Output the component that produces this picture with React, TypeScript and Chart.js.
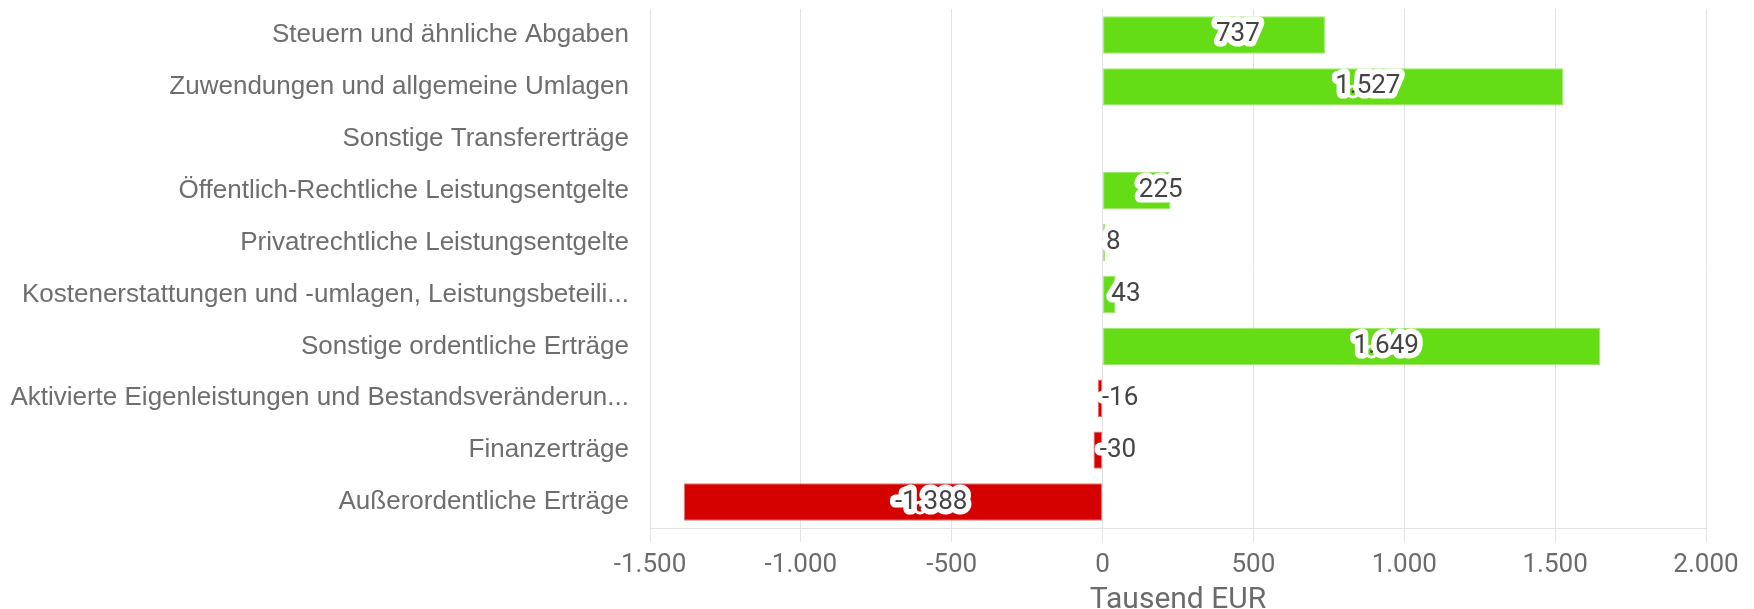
import React, { useEffect, useRef } from "react";
import { Chart, registerables } from "chart.js";

Chart.register(...registerables);

const CATEGORIES = [
  "Steuern und ähnliche Abgaben",
  "Zuwendungen und allgemeine Umlagen",
  "Sonstige Transfererträge",
  "Öffentlich-Rechtliche Leistungsentgelte",
  "Privatrechtliche Leistungsentgelte",
  "Kostenerstattungen und -umlagen, Leistungsbeteili...",
  "Sonstige ordentliche Erträge",
  "Aktivierte Eigenleistungen und Bestandsveränderun...",
  "Finanzerträge",
  "Außerordentliche Erträge",
];

const VALUES: (number | null)[] = [737, 1527, null, 225, 8, 43, 1649, -16, -30, -1388];

const X_MIN = -1500;
const X_MAX = 2000;
const X_STEP = 500;
const AXIS_TITLE = "Tausend EUR";

const FONT = "Roboto";
const LABEL_FONT = "'Liberation Sans', Arial, sans-serif";

function fmt(n: number): string {
  const neg = n < 0;
  const s = Math.round(Math.abs(n)).toString();
  const parts: string[] = [];
  for (let i = s.length; i > 0; i -= 3) parts.unshift(s.slice(Math.max(0, i - 3), i));
  return (neg ? "-" : "") + parts.join(".");
}

const valueLabelPlugin = {
  id: "valueLabels",
  afterDatasetsDraw(chart: any) {
    const ctx = chart.ctx;
    const meta = chart.getDatasetMeta(0);
    meta.data.forEach((bar: any, i: number) => {
      const v = VALUES[i];
      if (v == null) return;
      const { x, y, base } = bar.getProps(["x", "y", "base"], true);
      const cx = (x + base) / 2;
      const text = fmt(v);
      ctx.save();
      ctx.font = `26px ${FONT}`;
      ctx.textAlign = "left";
      ctx.textBaseline = "middle";
      ctx.lineJoin = "round";
      ctx.lineWidth = 11;
      ctx.strokeStyle = "#ffffff";
      ctx.strokeText(text, cx + 2, y);
      ctx.fillStyle = "#444444";
      ctx.fillText(text, cx + 2, y);
      ctx.restore();
    });
  },
};

export default function App() {
  const ref = useRef<HTMLCanvasElement | null>(null);

  useEffect(() => {
    document.body.style.margin = "0";
    const canvas = ref.current;
    if (!canvas) return;
    const chart = new Chart(canvas, {
      type: "bar",
      data: {
        labels: CATEGORIES,
        datasets: [
          {
            data: VALUES as any,
            backgroundColor: VALUES.map((v) => ((v ?? 0) < 0 ? "#d50000" : "#64dd17")),
            borderColor: VALUES.map((v) => ((v ?? 0) < 0 ? "#e57373" : "#9be86a")),
            borderWidth: 1,
            borderSkipped: false,
          },
        ],
      },
      options: {
        indexAxis: "y",
        animation: false,
        responsive: true,
        maintainAspectRatio: false,
        layout: { padding: { top: 9, right: 48, left: 0, bottom: 0 } },
        plugins: {
          legend: { display: false },
          tooltip: { enabled: false },
        },
        scales: {
          x: {
            type: "linear",
            min: X_MIN,
            max: X_MAX,
            ticks: {
              stepSize: X_STEP,
              color: "#6b6b6b",
              font: { family: FONT, size: 26 },
              padding: 8,
              callback: (v: any) => fmt(Number(v)),
            },
            grid: { color: "#e3e3e3", tickLength: 14, lineWidth: 1 },
            border: { display: true, color: "#e3e3e3" },
            title: {
              display: true,
              text: AXIS_TITLE,
              color: "#6b6b6b",
              font: { family: FONT, size: 30, lineHeight: 0.6 },
              padding: { top: 2, bottom: 0 },
            },
            afterFit: (scale: any) => {
              scale.height = 81;
            },
          },
          y: {
            type: "category",
            ticks: {
              color: "#6e6e6e",
              font: { family: LABEL_FONT, size: 26 },
              padding: 21,
            },
            grid: { display: false, drawTicks: false },
            border: { display: true, color: "#e3e3e3" },
            afterFit: (scale: any) => {
              scale.width = 650;
              scale.paddingTop = 0;
              scale.paddingBottom = 0;
            },
          },
        },
      },
      plugins: [valueLabelPlugin],
    } as any);
    return () => chart.destroy();
  }, []);

  return (
    <div style={{ width: "1754px", height: "609px", position: "relative" }}>
      <canvas ref={ref} />
    </div>
  );
}
